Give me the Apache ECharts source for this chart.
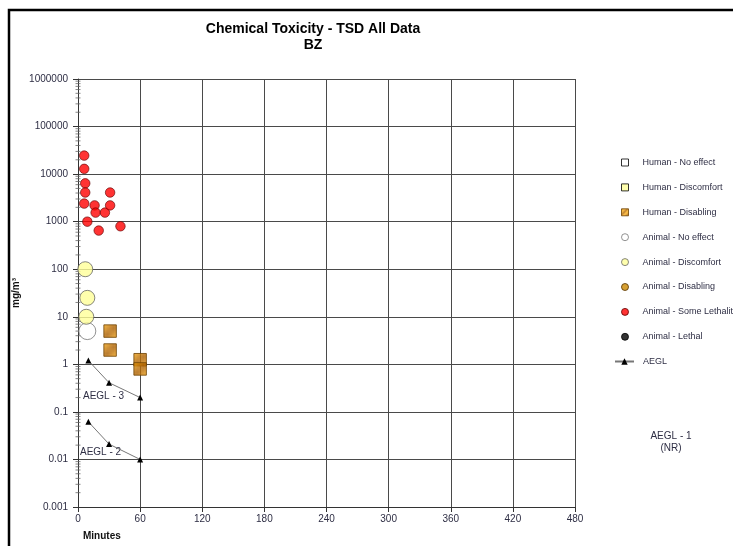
<!DOCTYPE html>
<html><head><meta charset="utf-8">
<script src="https://cdn.jsdelivr.net/npm/echarts@6/dist/echarts.min.js"></script>
<style>html,body{margin:0;padding:0;background:#fff}#c{width:733px;height:546px}</style>
</head><body><div id="c"></div>
<script>
// ---- data ----
var xTicks = [0, 60, 120, 180, 240, 300, 360, 420, 480];
var yTickLabels = ['0.001', '0.01', '0.1', '1', '10', '100', '1000', '10000', '100000', '1000000'];
var humanNoEffect = [];
var humanDiscomfort = [];
var humanDisabling = [[31, 5], [31, 2], [60, 1.25], [60, 0.8]];
var animalNoEffect = [[9, 5]];
var animalDiscomfort = [[7, 100], [9, 25], [8, 10]];
var animalDisabling = [];
var animalSomeLethality = [[6, 24500], [6, 12900], [7, 6400], [7, 4100], [6, 2400], [9, 1000], [16, 2200], [17, 1550], [20, 650], [26, 1550], [31, 4100], [31, 2200], [41, 800]];
var animalLethal = [];
var aegl3 = [[10, 1.2], [30, 0.41], [60, 0.2]];
var aegl2 = [[10, 0.062], [30, 0.021], [60, 0.01]];
var scatterLegend = ['Human - No effect', 'Human - Discomfort', 'Human - Disabling', 'Animal - No effect', 'Animal - Discomfort', 'Animal - Disabling', 'Animal - Some Lethality', 'Animal - Lethal'];
var lineLegend = ['AEGL'];

// minor tick positions derived from the decade tick labels
var minorTicks = [];
for (var i = 0; i < yTickLabels.length - 1; i++) {
  var base = parseFloat(yTickLabels[i]);
  for (var m = 2; m <= 9; m++) minorTicks.push([0, base * m]);
}

// hatch pattern
var pc = document.createElement('canvas');
pc.width = 6; pc.height = 6;
var g = pc.getContext('2d');
g.fillStyle = '#f5a818'; g.fillRect(0, 0, 6, 6);
g.strokeStyle = '#a85c00'; g.lineWidth = 1.5;
g.beginPath();
g.moveTo(0, 6); g.lineTo(6, 0);
g.moveTo(-3, 3); g.lineTo(3, -3);
g.moveTo(3, 9); g.lineTo(9, 3);
g.stroke();

var txt = '#2e2e44';
var font = 'Liberation Sans, Arial, sans-serif';
var chart = echarts.init(document.getElementById('c'));
chart.setOption({
  animation: false,
  backgroundColor: '#fff',
  textStyle: { fontFamily: font },
  grid: { left: 78, right: 158, top: 79, bottom: 39 },
  title: {
    text: 'Chemical Toxicity - TSD All Data\nBZ',
    left: 308, top: 16, textAlign: 'center',
    textStyle: { fontSize: 14, fontWeight: 'bold', color: '#000', lineHeight: 16, fontFamily: font }
  },
  legend: [{
    orient: 'vertical', left: 616, top: 153,
    itemWidth: 7, itemHeight: 7, itemGap: 15.9,
    itemStyle: { borderWidth: 1 },
    textStyle: { fontSize: 9, color: txt, fontFamily: font, padding: [0, 0, 0, 9] },
    data: scatterLegend
  }, {
    orient: 'vertical', left: 609, top: 352,
    itemWidth: 19, itemHeight: 8,
    textStyle: { fontSize: 9, color: txt, fontFamily: font, padding: [0, 0, 0, 4] },
    data: lineLegend
  }],
  xAxis: {
    type: 'value', min: 0, max: 480, interval: 60,
    axisLine: { lineStyle: { color: '#333' } },
    axisTick: { length: 5, lineStyle: { color: '#333' } },
    axisLabel: { color: txt, fontSize: 10, margin: 7, fontFamily: font,
      formatter: function (v) { return xTicks.indexOf(v) >= 0 ? String(v) : ''; } },
    splitLine: { show: true, lineStyle: { color: '#4a4a4a', width: 1 } }
  },
  yAxis: {
    type: 'log', logBase: 10, min: 0.001, max: 1000000,
    axisLine: { show: true, lineStyle: { color: '#333' } },
    axisTick: { show: true, length: 5, lineStyle: { color: '#333' } },
    axisLabel: { color: txt, fontSize: 10, margin: 10, fontFamily: font,
      formatter: function (v) {
        var k = Math.round(Math.log10(v)) + 3;
        return yTickLabels[k] || '';
      } },
    splitLine: { show: true, lineStyle: { color: '#4a4a4a', width: 1 } }
  },
  graphic: [
    { type: 'polyline', silent: true, shape: { points: [[9, 560], [9, 10], [740, 10]] }, style: { stroke: '#000', lineWidth: 2.5, fill: null } },
    { type: 'text', x: 16, y: 293, rotation: Math.PI / 2, style: { text: 'mg/m³', font: 'bold 10px Liberation Sans', fill: '#111', textAlign: 'center', textVerticalAlign: 'middle' } },
    { type: 'text', x: 83, y: 531, style: { text: 'Minutes', font: 'bold 10px Liberation Sans', fill: '#111' } },
    { type: 'text', x: 83, y: 391, style: { text: 'AEGL - 3', font: '10px Liberation Sans', fill: txt } },
    { type: 'text', x: 80, y: 447, style: { text: 'AEGL - 2', font: '10px Liberation Sans', fill: txt } },
    { type: 'text', x: 671, y: 430, style: { text: 'AEGL - 1\n(NR)', font: '10px Liberation Sans', fill: txt, textAlign: 'center', lineHeight: 12 } }
  ],
  series: [
    { type: 'custom', name: 'minor', silent: true, clip: false, z: 1, data: minorTicks,
      renderItem: function (params, api) {
        var p = api.coord([0, api.value(1)]);
        return { type: 'line', shape: { x1: p[0] - 2.5, y1: p[1], x2: p[0] + 2.5, y2: p[1] }, style: { stroke: '#666', lineWidth: 0.8 } };
      } },
    { type: 'scatter', name: 'Human - No effect', symbol: 'rect', symbolSize: 12, data: humanNoEffect, itemStyle: { color: '#fff', borderColor: '#000', borderWidth: 1 } },
    { type: 'scatter', name: 'Human - Discomfort', symbol: 'rect', symbolSize: 12, data: humanDiscomfort, itemStyle: { color: '#ffff99', borderColor: '#000', borderWidth: 1 } },
    { type: 'scatter', name: 'Human - Disabling', symbol: 'rect', symbolSize: 12.5, data: humanDisabling, z: 3,
      itemStyle: { color: { image: pc, repeat: 'repeat' }, borderColor: '#6b4000', borderWidth: 1 } },
    { type: 'scatter', name: 'Animal - No effect', symbol: 'circle', symbolSize: 17, data: animalNoEffect, itemStyle: { color: '#fff', borderColor: '#777', borderWidth: 1 } },
    { type: 'scatter', name: 'Animal - Discomfort', symbol: 'circle', symbolSize: 15, data: animalDiscomfort, itemStyle: { color: '#ffff99', borderColor: '#666', borderWidth: 1 } },
    { type: 'scatter', name: 'Animal - Disabling', symbol: 'circle', symbolSize: 12, data: animalDisabling, itemStyle: { color: '#cc8800', borderColor: '#553300', borderWidth: 1 } },
    { type: 'scatter', name: 'Animal - Some Lethality', symbol: 'circle', symbolSize: 9.5, data: animalSomeLethality, itemStyle: { color: '#ff0000', borderColor: '#600000', borderWidth: 0.8 } },
    { type: 'scatter', name: 'Animal - Lethal', symbol: 'circle', symbolSize: 9, data: animalLethal, itemStyle: { color: '#000', borderColor: '#000' } },
    { type: 'line', name: 'AEGL', data: aegl3, symbol: 'triangle', symbolSize: 6, showAllSymbol: true,
      lineStyle: { color: '#777', width: 1 }, itemStyle: { color: '#000', borderWidth: 0 } },
    { type: 'line', name: 'AEGL', data: aegl2, symbol: 'triangle', symbolSize: 6, showAllSymbol: true,
      lineStyle: { color: '#777', width: 1 }, itemStyle: { color: '#000', borderWidth: 0 } }
  ]
});
</script></body></html>
